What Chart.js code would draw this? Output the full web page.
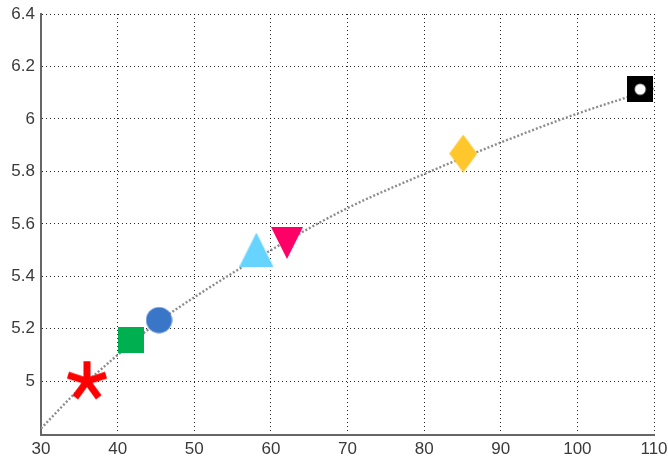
<!DOCTYPE html>
<html>
<head>
<meta charset="utf-8">
<script src="https://cdn.jsdelivr.net/npm/chart.js@4/dist/chart.umd.min.js"></script>
<style>
  body { margin: 0; background: #fff; }
  canvas { display: block; }
</style>
</head>
<body>
<canvas id="chart" width="668" height="463"></canvas>
<script>
// 測定点
const pointX = [36.0, 41.7, 45.4, 58.1, 62.1, 85.1, 108.2];
const pointY = [5.00, 5.156, 5.233, 5.502, 5.527, 5.868, 6.113];

// 近似曲線
const fitX = [30, 35, 40, 45, 50, 60, 70, 80, 90, 100, 110];
const fitY = [4.82, 4.97, 5.10, 5.22, 5.32, 5.50, 5.66, 5.79, 5.91, 6.02, 6.115];

// 目盛り
const xTicks = [30, 40, 50, 60, 70, 80, 90, 100, 110];
const yTicks = [5, 5.2, 5.4, 5.6, 5.8, 6, 6.2, 6.4];

// マーカー画像を作る
function makeMarker(w, h, draw) {
  const c = document.createElement("canvas");
  c.width = w;
  c.height = h;
  draw(c.getContext("2d"), w, h);
  return c;
}

const asterisk = makeMarker(46, 46, function (ctx, w, h) {
  ctx.strokeStyle = "#ff0000";
  ctx.lineWidth = 7;
  ctx.lineCap = "butt";
  ctx.beginPath();
  for (let i = 0; i < 5; i++) {
    const a = -Math.PI / 2 + (i * 2 * Math.PI) / 5;
    ctx.moveTo(w / 2, h / 2);
    ctx.lineTo(w / 2 + Math.cos(a) * 20, h / 2 + Math.sin(a) * 20);
  }
  ctx.stroke();
});

const greenSquare = makeMarker(26, 26, function (ctx, w, h) {
  ctx.fillStyle = "#00b050";
  ctx.fillRect(0, 0, w, h);
});

const blueCircle = makeMarker(27, 27, function (ctx, w, h) {
  ctx.fillStyle = "#3a76c8";
  ctx.beginPath();
  ctx.arc(w / 2, h / 2, 13, 0, Math.PI * 2);
  ctx.fill();
});

const triUp = makeMarker(34, 34, function (ctx, w, h) {
  ctx.fillStyle = "#66d4ff";
  ctx.beginPath();
  ctx.moveTo(w / 2, 0);
  ctx.lineTo(w, h);
  ctx.lineTo(0, h);
  ctx.closePath();
  ctx.fill();
});

const triDown = makeMarker(32, 32, function (ctx, w, h) {
  ctx.fillStyle = "#ff0066";
  ctx.beginPath();
  ctx.moveTo(0, 0);
  ctx.lineTo(w, 0);
  ctx.lineTo(w / 2, h);
  ctx.closePath();
  ctx.fill();
});

const diamond = makeMarker(28, 38, function (ctx, w, h) {
  ctx.fillStyle = "#ffc72c";
  ctx.beginPath();
  ctx.moveTo(w / 2, 0);
  ctx.lineTo(w, h / 2);
  ctx.lineTo(w / 2, h);
  ctx.lineTo(0, h / 2);
  ctx.closePath();
  ctx.fill();
});

const blackSquare = makeMarker(26, 26, function (ctx, w, h) {
  ctx.fillStyle = "#000";
  ctx.fillRect(0, 0, w, h);
  ctx.fillStyle = "#fff";
  ctx.beginPath();
  ctx.arc(w / 2, h / 2, 5.5, 0, Math.PI * 2);
  ctx.fill();
});

const markers = [asterisk, greenSquare, blueCircle, triUp, triDown, diamond, blackSquare];

const tickFont = { family: "'Liberation Sans', Arial, sans-serif", size: 17 };

new Chart(document.getElementById("chart"), {
  type: "scatter",
  data: {
    datasets: [
      {
        data: pointX.map((x, i) => ({ x: x, y: pointY[i] })),
        pointStyle: markers,
        order: 1,
      },
      {
        type: "line",
        data: fitX.map((x, i) => ({ x: x, y: fitY[i] })),
        borderColor: "#8c8c8c",
        borderWidth: 2.4,
        borderDash: [2, 2],
        pointRadius: 0,
        cubicInterpolationMode: "monotone",
        fill: false,
        order: 2,
      },
    ],
  },
  options: {
    responsive: false,
    animation: false,
    events: [],
    layout: { padding: { left: 0, top: 14, right: 14, bottom: 0 } },
    plugins: {
      legend: { display: false },
      tooltip: { enabled: false },
    },
    scales: {
      x: {
        type: "linear",
        min: 30,
        max: 110,
        afterBuildTicks: (scale) => {
          scale.ticks = xTicks.map((v) => ({ value: v }));
        },
        afterFit: (scale) => {
          scale.height = 28;
          scale.paddingLeft = 0;
          scale.paddingRight = 0;
        },
        ticks: { color: "#3a3a3a", font: tickFont, padding: 4, maxRotation: 0 },
        grid: { color: "rgba(0,0,0,0.85)", lineWidth: 1, drawTicks: false },
        border: { color: "#666", width: 2, dash: [1, 3] },
      },
      y: {
        type: "linear",
        min: 4.795,
        max: 6.4,
        afterBuildTicks: (scale) => {
          scale.ticks = yTicks.map((v) => ({ value: v }));
        },
        afterFit: (scale) => {
          scale.width = 41;
          scale.paddingTop = 0;
          scale.paddingBottom = 0;
        },
        ticks: {
          color: "#3a3a3a",
          font: tickFont,
          padding: 6,
          callback: (v) => String(Math.round(v * 10) / 10),
        },
        grid: { color: "rgba(0,0,0,0.85)", lineWidth: 1, drawTicks: false },
        border: { color: "#666", width: 2, dash: [1, 3] },
      },
    },
  },
});
</script>
</body>
</html>
